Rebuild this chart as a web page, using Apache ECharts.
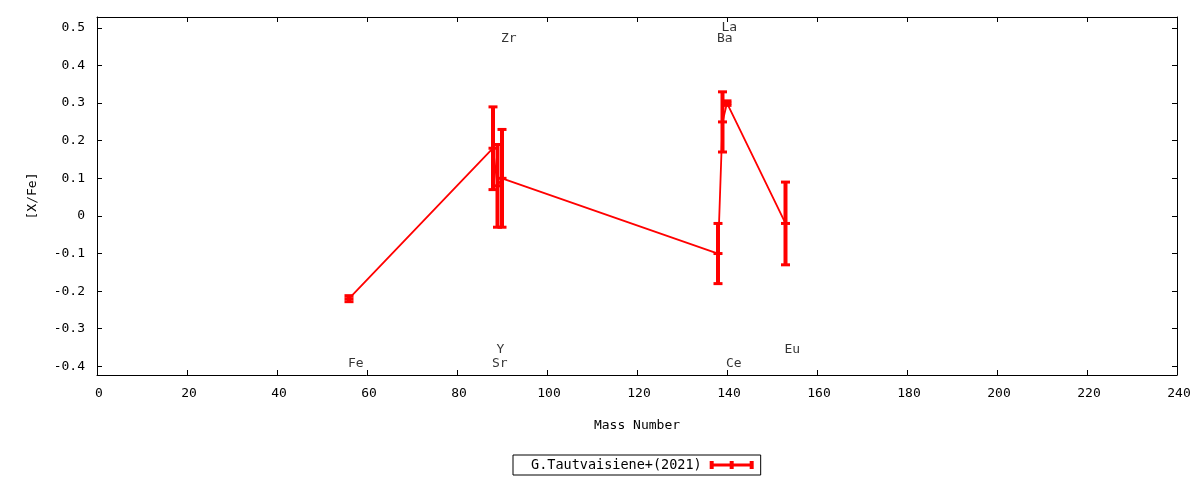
<!DOCTYPE html>
<html>
<head>
<meta charset="utf-8">
<script src="https://cdn.jsdelivr.net/npm/echarts@6/dist/echarts.min.js"></script>
<style>
html,body{margin:0;padding:0;background:#fff;}
#chart{width:1200px;height:480px;}
</style>
</head>
<body>
<div id="chart"></div>
<script>
// ---- data ----
const elements    = ['Fe', 'Sr', 'Y', 'Zr', 'Ba', 'La', 'Ce', 'Eu'];
const massNumbers = [56, 88, 89, 90, 138, 139, 140, 153];
const xfeValues   = [-0.22, 0.18, 0.08, 0.10, -0.10, 0.25, 0.30, -0.02];
const xfeErrors   = [0.008, 0.11, 0.11, 0.13, 0.08, 0.08, 0.006, 0.11];
const labelY      = [-0.39, -0.39, -0.353, 0.474, 0.474, 0.503, -0.39, -0.353];
const xTicks      = [0, 20, 40, 60, 80, 100, 120, 140, 160, 180, 200, 220, 240];
const yTicks      = [-0.4, -0.3, -0.2, -0.1, 0, 0.1, 0.2, 0.3, 0.4, 0.5];
const seriesName  = 'G.Tautvaisiene+(2021)';

const FONT = '"DejaVu Sans Mono", "Liberation Mono", monospace';
const FS = 13;
const RED = '#ff0000';

const lineData = massNumbers.map((m, i) => [m, xfeValues[i]]);
const errData = massNumbers.map((m, i) => [m, xfeValues[i] - xfeErrors[i], xfeValues[i] + xfeErrors[i], xfeValues[i]]);
const labelData = massNumbers.map((m, i) => ({ value: [m, labelY[i]], name: elements[i] }));

const chart = echarts.init(document.getElementById('chart'), null, { renderer: 'canvas' });

const axisCommon = {
  axisLine: { show: true, onZero: false, lineStyle: { color: '#000', width: 1 } },
  splitLine: { show: false },
};

chart.setOption({
  animation: false,
  backgroundColor: '#fff',
  textStyle: { fontFamily: FONT },
  grid: { left: 97, right: 23, top: 17, bottom: 105, containLabel: false },
  legend: {
    data: [{ name: seriesName, icon: 'path://M0,2.5H44V5.5H0Z M0,0H4V8H0Z M20,0H24V8H20Z M40,0H44V8H40Z' }],
    left: 513, top: 455,
    align: 'right',
    itemWidth: 44, itemHeight: 8,
    borderColor: '#000', borderWidth: 1, borderRadius: 0,
    padding: [3, 7, 3, 18],
    textStyle: { fontFamily: FONT, fontSize: 13.5, color: '#000', lineHeight: 14, padding: [0, 3, 0, 0] },
    selectedMode: false
  },
  xAxis: [
    Object.assign({}, axisCommon, {
      type: 'value', min: 0, max: 240, interval: 20,
      name: 'Mass Number', nameLocation: 'middle', nameGap: 44,
      nameTextStyle: { fontFamily: FONT, fontSize: FS, color: '#000' },
      axisTick: { show: true, inside: true, length: 5, lineStyle: { color: '#000' } },
      axisLabel: { show: true, margin: 12, fontFamily: FONT, fontSize: FS, color: '#000', padding: [0, 0, 0, 4] }
    }),
    Object.assign({}, axisCommon, {
      type: 'value', min: 0, max: 240, interval: 20, position: 'top',
      axisTick: { show: true, inside: true, length: 5, lineStyle: { color: '#000' } },
      axisLabel: { show: false }
    })
  ],
  yAxis: [
    Object.assign({}, axisCommon, {
      type: 'value', min: -0.423, max: 0.529,
      name: '[X/Fe]', nameLocation: 'middle', nameGap: 58, nameRotate: 90,
      nameTextStyle: { fontFamily: FONT, fontSize: FS, color: '#000' },
      axisTick: { show: true, inside: true, length: 5, customValues: yTicks, lineStyle: { color: '#000' } },
      axisLabel: { show: true, margin: 12, fontFamily: FONT, fontSize: FS, color: '#000',
        customValues: yTicks, formatter: v => String(+v.toFixed(1)), padding: [3, 0, 0, 0] }
    }),
    Object.assign({}, axisCommon, {
      type: 'value', min: -0.423, max: 0.529, position: 'right',
      axisTick: { show: true, inside: true, length: 5, customValues: yTicks, lineStyle: { color: '#000' } },
      axisLabel: { show: false }
    })
  ],
  series: [
    {
      name: seriesName,
      type: 'line',
      data: lineData,
      symbol: 'none',
      itemStyle: { color: RED },
      lineStyle: { color: RED, width: 1.8 },
      z: 3
    },
    {
      name: 'errorbars',
      type: 'custom',
      data: errData,
      encode: { x: 0, y: [1, 2] },
      z: 4,
      renderItem: function (params, api) {
        const x = api.value(0);
        const pLo = api.coord([x, api.value(1)]);
        const pHi = api.coord([x, api.value(2)]);
        const pMid = api.coord([x, api.value(3)]);
        const bw = 4, cw = 9, ch = 3;
        const style = { fill: RED };
        return {
          type: 'group',
          children: [
            { type: 'rect', shape: { x: pHi[0] - bw / 2, y: pHi[1], width: bw, height: pLo[1] - pHi[1] }, style },
            { type: 'rect', shape: { x: pHi[0] - cw / 2, y: pHi[1] - ch / 2, width: cw, height: ch }, style },
            { type: 'rect', shape: { x: pLo[0] - cw / 2, y: pLo[1] - ch / 2, width: cw, height: ch }, style },
            { type: 'rect', shape: { x: pMid[0] - cw / 2, y: pMid[1] - ch / 2, width: cw, height: ch }, style }
          ]
        };
      }
    },
    {
      name: 'element labels',
      type: 'scatter',
      data: labelData,
      symbolSize: 0,
      silent: true,
      label: {
        show: true, position: 'inside', align: 'left', verticalAlign: 'middle',
        offset: [-1, 1],
        formatter: p => p.name,
        fontFamily: FONT, fontSize: FS, color: '#000'
      },
      z: 5
    }
  ]
});
</script>
</body>
</html>
